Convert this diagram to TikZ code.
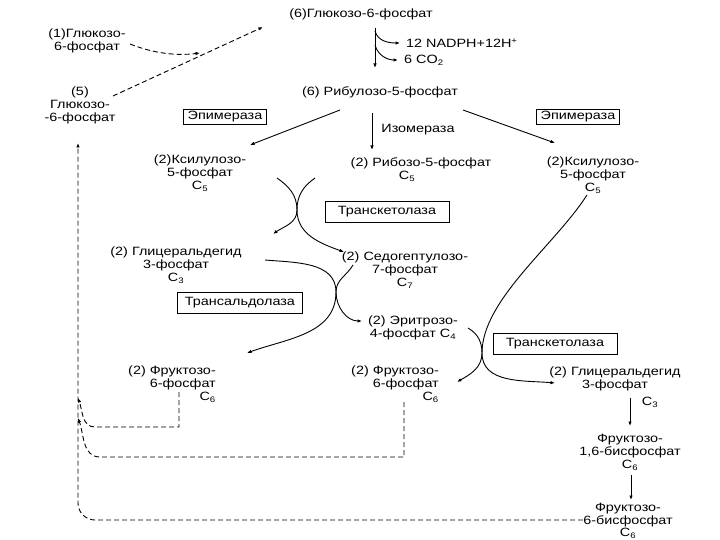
\documentclass[tikz,border=0pt]{standalone}
\usepackage{fontspec}
\setmainfont{Liberation Sans}[FakeStretch=1.2]
\usetikzlibrary{arrows.meta}
\begin{document}
\begin{tikzpicture}[x=1pt,y=-1pt,
	met/.style={font=\fontsize{12}{13}\selectfont,align=center,inner sep=0pt},
	enz/.style={draw,font=\fontsize{12}{13}\selectfont,inner xsep=4pt,inner ysep=2pt,minimum height=21pt,line width=0.9pt},
	flow/.style={-{Latex[length=4.5pt,width=3.5pt]},line width=0.9pt},
	back/.style={flow,dash pattern=on 5pt off 3pt}]
	\useasboundingbox (0,0) rectangle (720,540);

	\node (g6p6) [met] at (361,14) {(6)Глюкозо-6-фосфат};
	\node (g6p1) [met] at (87,41) {(1)Глюкозо-\\6-фосфат};
	\node (g6p5) [met] at (80,105) {(5)\\Глюкозо-\\-6-фосфат};
	\node (nadph) [met,anchor=west] at (406,43) {12 NADPH+12H\textsuperscript{+}};
	\node (co2) [met,anchor=west] at (404,60) {6 CO\textsubscript{2}};
	\node (ru5p) [met] at (380,92) {(6) Рибулозо-5-фосфат};
	\node (epiL) [enz,minimum height=15pt,minimum width=83pt] at (225,117) {Эпимераза};
	\node (epiR) [enz,minimum height=15pt,minimum width=83pt] at (578,117) {Эпимераза};
	\node (isom) [met] at (418,130) {Изомераза};
	\node (xu5pL) [met] at (200,173) {(2)Ксилулозо-\\5-фосфат\\C\textsubscript{5}};
	\node (r5p) [met] at (421,170) {(2) Рибозо-5-фосфат\\C\textsubscript{5}\hspace*{28pt}};
	\node (xu5pR) [met] at (593,175) {(2)Ксилулозо-\\5-фосфат\\C\textsubscript{5}};
	\node (tk1) [enz,minimum width=124pt] at (387,212) {Транскетолаза};
	\node (gapL) [met] at (176,265) {(2) Глицеральдегид\\3-фосфат\\C\textsubscript{3}};
	\node (s7p) [met] at (405,270) {(2) Седогептулозо-\\7-фосфат\\C\textsubscript{7}};
	\node (ta) [enz,minimum width=125pt] at (240,303) {Трансальдолаза};
	\node (e4p) [met] at (413,328) {(2) Эритрозо-\\4-фосфат C\textsubscript{4}};
	\node (tk2) [enz,minimum width=124pt] at (555,344) {Транскетолаза};
	\node (f6pL) [met,align=right,anchor=east] at (216,384) {(2) Фруктозо-\\6-фосфат\\C\textsubscript{6}};
	\node (f6pM) [met,align=right,anchor=east] at (439,384) {(2) Фруктозо-\\6-фосфат\\C\textsubscript{6}};
	\node (gapR) [met] at (615,379) {(2) Глицеральдегид\\3-фосфат};
	\node (c3) [met] at (650,402) {C\textsubscript{3}};
	\node (fbp) [met] at (630,452) {Фруктозо-\\1,6-бисфосфат\\C\textsubscript{6}};
	\node (f6pB) [met,font=\fontsize{12}{12.5}\selectfont] at (628,521) {Фруктозо-\\6-бисфосфат\\C\textsubscript{6}};

	\coordinate (jn) at (200,53);
	\coordinate (g6pin) at (263,27);
	\coordinate (ox1) at (375,28);
	\coordinate (ox2) at (375,68);
	\coordinate (nin) at (400,43);
	\coordinate (cin) at (398,60);
	\coordinate (x1) at (297,210);
	\coordinate (x2) at (336,292);
	\coordinate (x3) at (482,353);
	\coordinate (ret) at (78,143);

	\draw[back] (130,44) .. controls (160,56) and (184,55) .. (jn);
	\draw[back] (113,96) -- (g6pin);

	\draw[flow] (ox1) -- (ox2);
	\draw[flow] (375,31) to[out=-75,in=180] (nin);
	\draw[flow] (375,45) to[out=-75,in=180] (cin);

	\draw[flow] (340,110) -- (250,145);
	\draw[flow] (372,113) -- (372,150);
	\draw[flow] (463,110) -- (555,143);

	\draw[flow] (277,178) to[out=-35,in=90] (x1) to[out=-90,in=35] (273,234);
	\draw[flow] (315,178) to[out=-145,in=90] (x1) to[out=-90,in=160] (344,252);

	\draw[flow] (265,260) to[out=-5,in=90] (x2) to[out=-90,in=20] (247,353);
	\draw[flow] (353,265) to[out=-120,in=90] (x2) to[out=-90,in=180] (362,321);

	\draw[flow] (587,195) .. controls (555,245) and (482,300) .. (x3) to[out=-90,in=175] (555,383);
	\draw[flow] (468,328) to[out=-30,in=90] (x3) to[out=-90,in=30] (457,382);

	\draw[flow] (630,398) -- (630,426);
	\draw[flow] (631,475) -- (631,500);

	\draw[back] (f6pB.west |- 0,520) -- (95,520) to[out=180,in=-90] (78,503) -- (ret);
	\draw[back] (179,392) -- (179,427) -- (95,427) to[out=180,in=-70] (78,398);
	\draw[back] (404,402) -- (404,457) -- (100,457) to[out=180,in=-70] (78,418);
\end{tikzpicture}
\end{document}
